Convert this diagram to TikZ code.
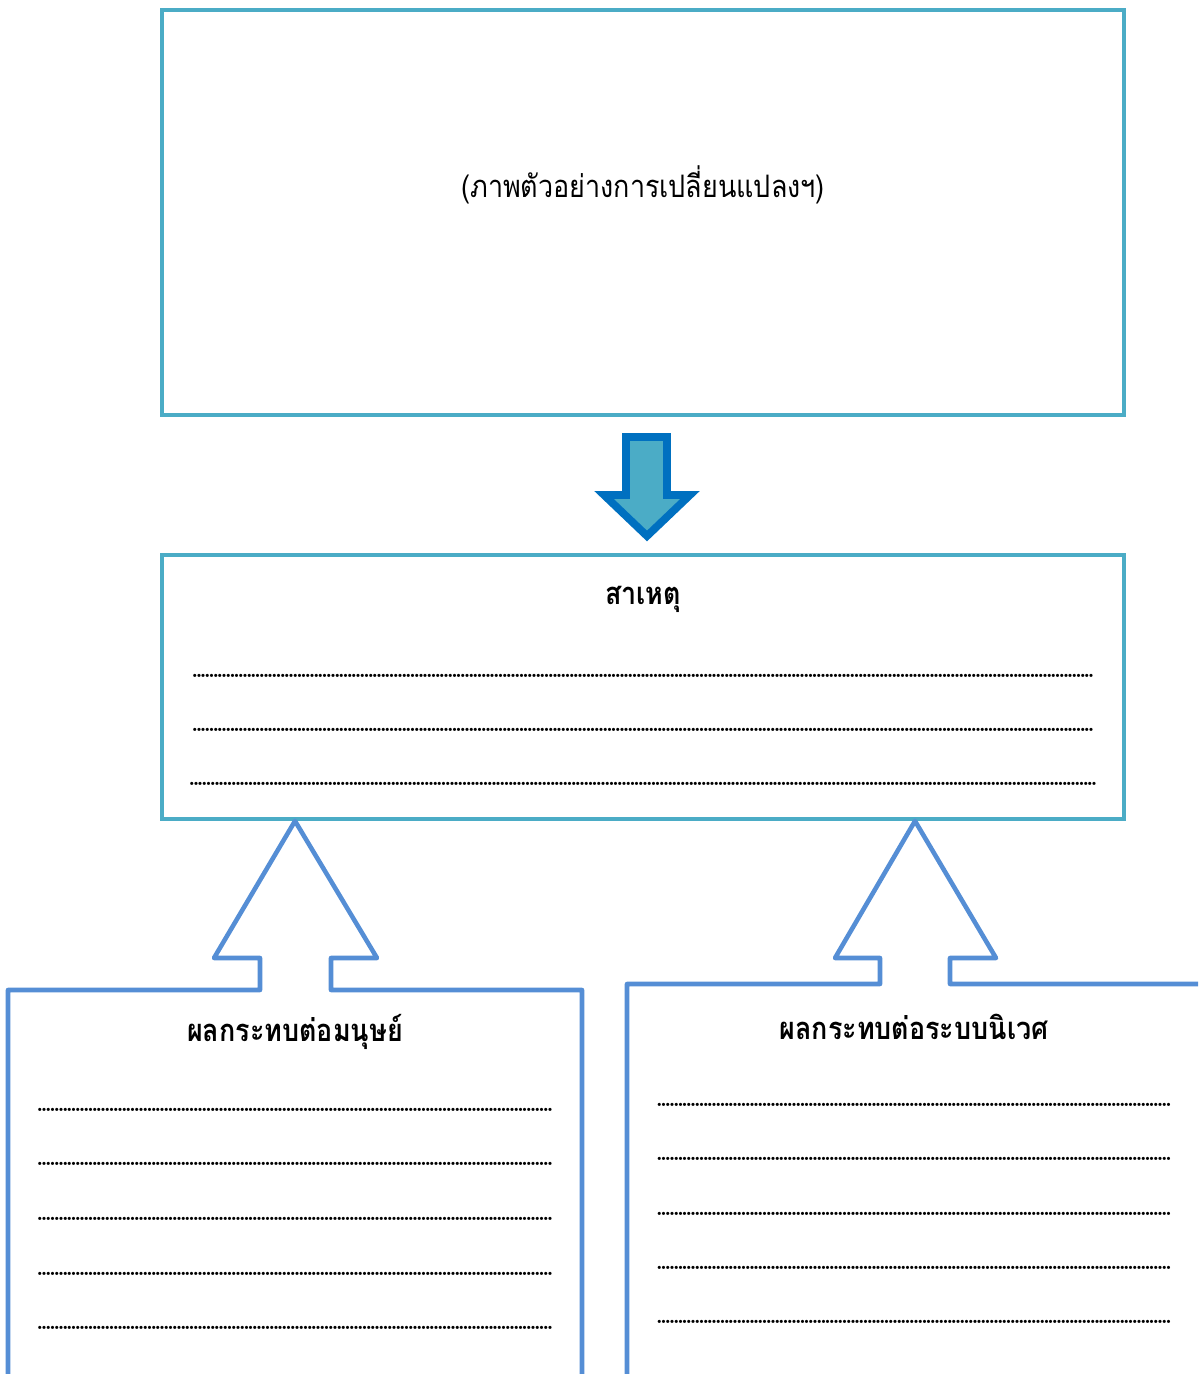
\documentclass[tikz,border=0pt]{standalone}
\usepackage{fontspec}
\newfontfamily\thaifont[Script=Thai,FakeStretch=0.87]{Loma}
\usepackage{xcolor}
\usepackage{tikz}

\definecolor{boxteal}{HTML}{4BACC6}
\definecolor{calloutblue}{HTML}{558ED5}
\definecolor{arrowedge}{HTML}{0070C0}

\newcommand{\dotrow}[1]{\hbox to #1{\xleaders\hbox to 1.19pt{\hss\fontsize{8.5}{8.5}\selectfont.\hss}\hfill}}

\begin{document}
\begin{tikzpicture}[x=0.01cm,y=-0.01cm]
	\useasboundingbox (0,0) rectangle (1198,1374);
	\clip (0,0) rectangle (1198,1374);

	\draw[boxteal, line width=1.2pt] (162,10) rectangle (1124,415);
	\path (643,185) node (phototext) {\thaifont\fontsize{8.8}{11}\selectfont (ภาพตัวอย่างการเปลี่ยนแปลงฯ)};

	\draw[fill=boxteal, draw=arrowedge, line width=2.2pt, line join=miter]
		(626,437) -- (667,437) -- (667,495) -- (690,495) -- (647,536)
		-- (604,495) -- (626,495) -- cycle;

	\draw[boxteal, line width=1.2pt] (162,555) rectangle (1124,819);
	\path (643,599) node (cause) {\thaifont\bfseries\fontsize{8.8}{11}\selectfont สาเหตุ};
	\path (643,676) node (cause1) {\dotrow{9cm}};
	\path (643,730) node (cause2) {\dotrow{9cm}};
	\path (643,784) node (cause3) {\dotrow{9.06cm}};

	\draw[calloutblue, line width=1.3pt, line join=round]
		(8,1390) -- (8,990) -- (260,990) -- (260,958) -- (214,958) -- (295,821)
		-- (377,958) -- (331,958) -- (331,990) -- (582,990) -- (582,1390);
	\path (295,1032) node (human) {\thaifont\bfseries\fontsize{8.8}{11}\selectfont ผลกระทบต่อมนุษย์};
	\path (295,1110) node (human1) {\dotrow{5.14cm}};
	\path (295,1164) node (human2) {\dotrow{5.14cm}};
	\path (295,1219) node (human3) {\dotrow{5.14cm}};
	\path (295,1274) node (human4) {\dotrow{5.14cm}};
	\path (295,1328) node (human5) {\dotrow{5.14cm}};

	\draw[calloutblue, line width=1.3pt, line join=round]
		(627,1390) -- (627,984) -- (880,984) -- (880,958) -- (835,958) -- (915,821)
		-- (996,958) -- (950,958) -- (950,984) -- (1210,984);
	\path (914,1027) node (eco) {\thaifont\bfseries\fontsize{8.8}{11}\selectfont ผลกระทบต่อระบบนิเวศ};
	\path (914,1105) node (eco1) {\dotrow{5.13cm}};
	\path (914,1159) node (eco2) {\dotrow{5.13cm}};
	\path (914,1214) node (eco3) {\dotrow{5.13cm}};
	\path (914,1268) node (eco4) {\dotrow{5.13cm}};
	\path (914,1322) node (eco5) {\dotrow{5.13cm}};
\end{tikzpicture}
\end{document}
